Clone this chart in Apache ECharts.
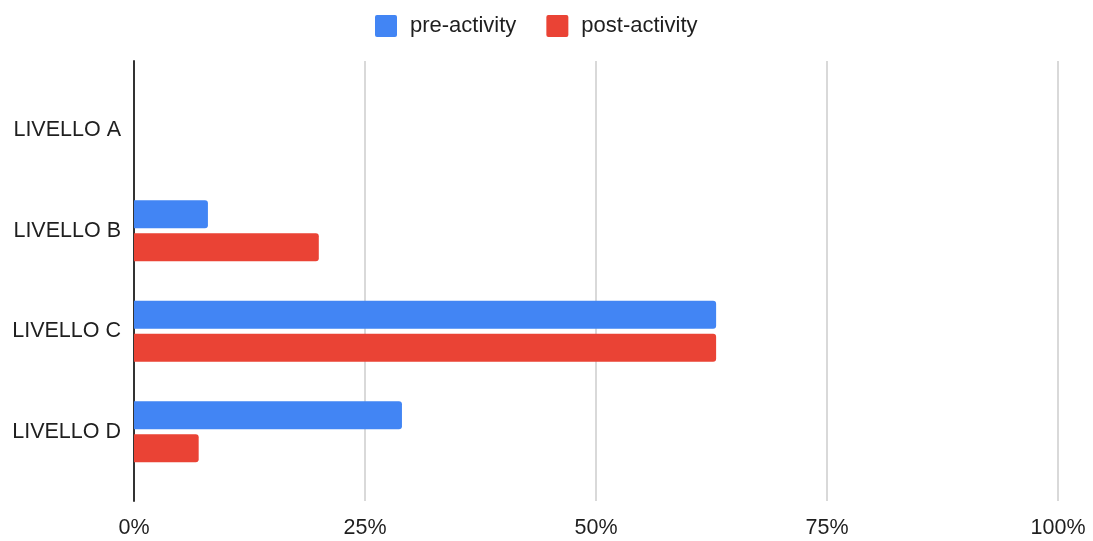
<!DOCTYPE html>
<html>
<head>
<meta charset="utf-8">
<title>Livelli pre/post attività</title>
<script src="https://cdn.jsdelivr.net/npm/echarts@6/dist/echarts.min.js"></script>
<style>
  html, body { margin: 0; padding: 0; background: #fff; }
  #chart { width: 1093px; height: 541px; }
</style>
</head>
<body>
<div id="chart"></div>
<script>
// Levels and share of students (percent) before and after the activity
const levels = ['LIVELLO A', 'LIVELLO B', 'LIVELLO C', 'LIVELLO D'];
const preActivity = [0, 8, 63, 29];
const postActivity = [0, 20, 63, 7];
const tickValues = [0, 25, 50, 75, 100];

const FONT = '"Liberation Sans", Arial, sans-serif';
const TEXT = '#1f1f1f';

const chart = echarts.init(document.getElementById('chart'), null, { renderer: 'canvas' });

chart.setOption({
  animation: false,
  textStyle: { fontFamily: FONT },
  legend: {
    left: 370,
    top: 10,
    itemWidth: 22,
    itemHeight: 22,
    itemGap: 30,
    icon: 'path://M2,0 L20,0 Q22,0 22,2 L22,20 Q22,22 20,22 L2,22 Q0,22 0,20 L0,2 Q0,0 2,0 Z',
    textStyle: { fontSize: 22, color: TEXT, fontFamily: FONT, padding: [0, 0, 0, 8] },
    data: ['pre-activity', 'post-activity']
  },
  grid: [
    // frame: gridlines, percent labels and the baseline
    { left: 134, right: 35, top: 61, bottom: 40 },
    // bars and level labels
    { left: 134, right: 35, top: 80, bottom: 59 }
  ],
  xAxis: [
    {
      gridIndex: 0,
      type: 'value',
      min: tickValues[0],
      max: tickValues[tickValues.length - 1],
      interval: 25,
      axisLine: { show: false },
      axisTick: { show: false },
      splitLine: { show: true, lineStyle: { color: '#cccccc', width: 1.5 } },
      axisLabel: {
        fontSize: 21.5,
        color: TEXT,
        margin: 16,
        fontFamily: FONT,
        formatter: v => v + '%'
      }
    },
    {
      gridIndex: 1,
      type: 'value',
      min: tickValues[0],
      max: tickValues[tickValues.length - 1],
      show: false
    }
  ],
  yAxis: [
    {
      gridIndex: 0,
      type: 'value',
      min: 0,
      max: 1,
      axisLine: { show: true, lineStyle: { color: '#333333', width: 2 } },
      axisTick: { show: false },
      axisLabel: { show: false },
      splitLine: { show: false }
    },
    {
      gridIndex: 1,
      type: 'category',
      inverse: true,
      data: levels,
      axisLine: { show: false },
      axisTick: { show: false },
      axisLabel: { fontSize: 21.5, color: TEXT, margin: 13, fontFamily: FONT }
    }
  ],
  series: [
    {
      name: 'pre-activity',
      type: 'bar',
      xAxisIndex: 1,
      yAxisIndex: 1,
      data: preActivity,
      barWidth: 28,
      barGap: '18%',
      itemStyle: { color: '#4285F4', borderRadius: [0, 3, 3, 0] }
    },
    {
      name: 'post-activity',
      type: 'bar',
      xAxisIndex: 1,
      yAxisIndex: 1,
      data: postActivity,
      barWidth: 28,
      barGap: '18%',
      itemStyle: { color: '#EA4335', borderRadius: [0, 3, 3, 0] }
    }
  ]
});
</script>
</body>
</html>
